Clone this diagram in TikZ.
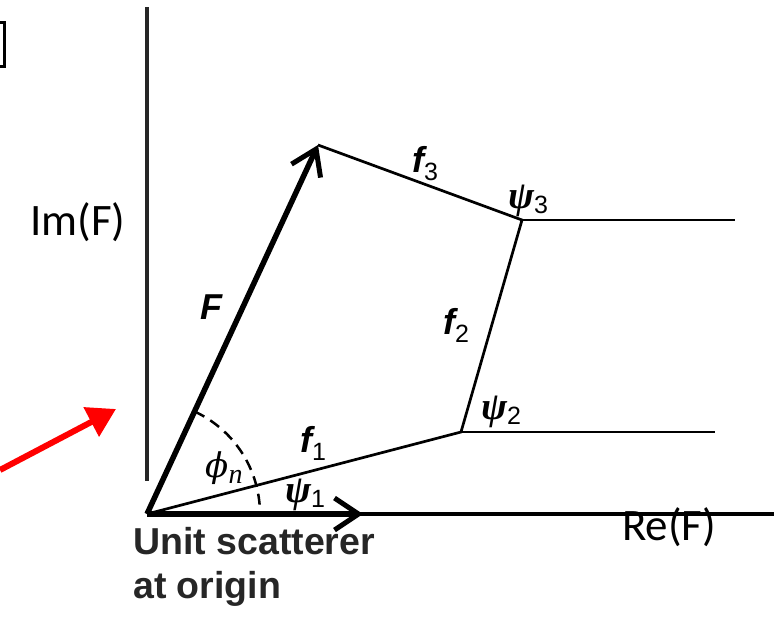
\documentclass[tikz,border=0pt]{standalone}
\usepackage{fontspec}
\setmainfont{Liberation Sans}
\newfontfamily\calibri{Carlito}
\newfontfamily\serifgr{Liberation Serif}
\newfontfamily\dvserif{DejaVu Serif}
\usetikzlibrary{arrows.meta}
\newcommand\vlbl[2]{{\fontsize{36}{36}\selectfont\bfseries\itshape #1}\raisebox{-8pt}{\fontsize{25}{25}\selectfont #2}}
\newcommand\glbl[2]{{\fontsize{39}{39}\selectfont\serifgr\bfseries\itshape #1}\raisebox{-5pt}{\fontsize{25}{25}\selectfont #2}}
\begin{document}
\begin{tikzpicture}[x=1pt,y=-1pt,
  axisline/.style={line width=4pt,draw=black!85},
  thinvec/.style={line width=2.7pt},
  thickvec/.style={line width=5.5pt,-{Straight Barb[length=24pt,width=32pt,line width=5pt]}},
  axlabel/.style={font=\calibri\fontsize{45}{45}\selectfont,inner sep=0pt},
  lbl/.style={inner sep=0pt},
  unittext/.style={inner sep=0pt,anchor=base west,font=\fontsize{37.5}{37.5}\selectfont\bfseries,text=black!85}]
\useasboundingbox (0,0) rectangle (774,619);
% coordinates
\coordinate (O) at (147,514);
\coordinate (A) at (318,145);
\coordinate (B) at (522,220);
\coordinate (C) at (461,432);
\coordinate (U) at (363,514);
\coordinate (Bend) at (735,220);
\coordinate (Cend) at (715,432);
\coordinate (Rend) at (774,514);
\coordinate (Vtop) at (147,7);
\coordinate (Vbot) at (147,481);
% axes
\draw[axisline] (Vtop) -- (Vbot);
\draw[line width=3.5pt] (O) -- (Rend);
% polygon
\draw[thinvec,line join=miter] (O) -- (C) -- (B) -- (A);
\draw[line width=2pt] (B) -- (Bend);
\draw[line width=2pt] (C) -- (Cend);
% vectors
\draw[thickvec] (O) -- (A);
\draw[thickvec] (O) -- (U);
% dashed angle arc
\draw[line width=2.5pt,dash pattern=on 11pt off 7pt] ([shift={(-65.1:113)}]O) arc[start angle=-65.1,end angle=-3,radius=113];
% bracket remnant
\draw[line width=3pt] (0,22) -- (4,22) -- (4,66) -- (0,66);
% red arrow
\coordinate (R0) at (0,470);
\coordinate (R1) at (116,409);
\draw[red,line width=6pt,-{Triangle[length=28pt,width=32pt]}] (R0) -- (R1);
% labels
\node[axlabel] (im) at (78,222) {Im(F)};
\node[axlabel] (re) at (669,527) {Re(F)};
\node[lbl,font=\fontsize{36}{36}\selectfont\bfseries\itshape] (Flbl) at (211,307) {F};
\node[lbl] (f3) at (425,164) {\vlbl{f}{3}};
\node[lbl] (f2) at (456,325) {\vlbl{f}{2}};
\node[lbl] (f1) at (313,443) {\vlbl{f}{1}};
\node[lbl] (p3) at (528,201) {\glbl{ψ}{3}};
\node[lbl] (p2) at (501,412) {\glbl{ψ}{2}};
\node[lbl] (p1) at (305,495) {\glbl{ψ}{1}};
\node[lbl] (phi) at (224,468) {{\fontsize{34}{34}\selectfont\dvserif\itshape ϕ}\raisebox{-6pt}{\fontsize{28}{28}\selectfont\serifgr\itshape n}};
\node[unittext] (unit1) at (133,554) {Unit scatterer};
\node[unittext] (unit2) at (133,598) {at origin};
\end{tikzpicture}
\end{document}
